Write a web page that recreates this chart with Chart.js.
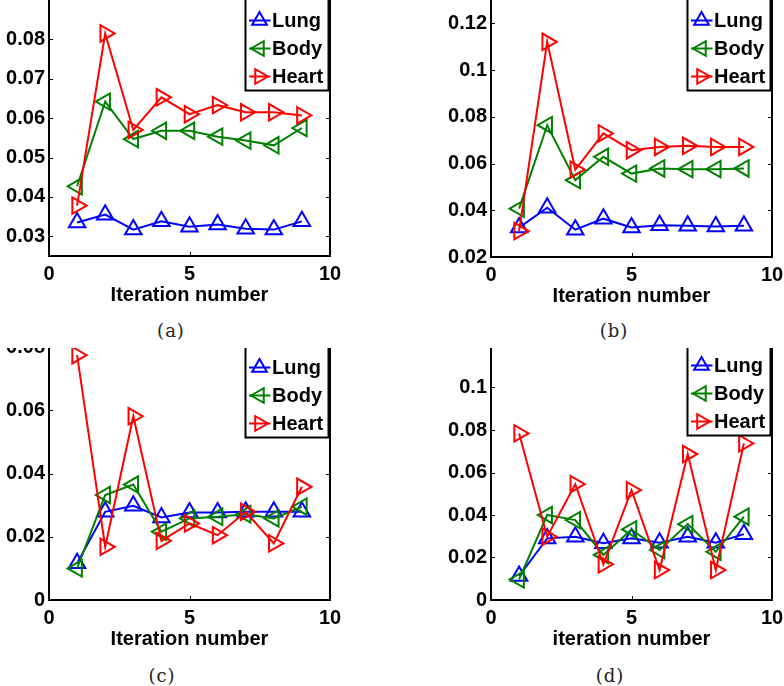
<!DOCTYPE html>
<html><head><meta charset="utf-8">
<script src="https://cdn.jsdelivr.net/npm/chart.js@4.4.0/dist/chart.umd.min.js"></script>
<style>
html,body{margin:0;padding:0;background:#fff;width:784px;height:686px;overflow:hidden;position:relative}
.clip{position:absolute;overflow:hidden}
.clip canvas{position:absolute}
.cap{position:absolute;font-family:"DejaVu Serif","Liberation Serif",serif;font-size:18px;color:#222;transform:translate(-50%,-50%);white-space:nowrap;letter-spacing:1px}
</style></head><body>
<div class="clip" id="wa"><canvas id="ca"></canvas></div>
<div class="clip" id="wb"><canvas id="cb"></canvas></div>
<div class="clip" id="wc"><canvas id="cc"></canvas></div>
<div class="clip" id="wd"><canvas id="cd"></canvas></div>
<div class="cap" style="left:171px;top:330px">(a)</div>
<div class="cap" style="left:614px;top:330px">(b)</div>
<div class="cap" style="left:162px;top:675px">(c)</div>
<div class="cap" style="left:610px;top:675px">(d)</div>
<script>
// ---- data ----
const iterations = [1, 2, 3, 4, 5, 6, 7, 8, 9];
const seriesLabels = ['Lung', 'Body', 'Heart'];
const xTicks = [0, 5, 10];

const lungA  = [0.0335, 0.0355, 0.0317, 0.0338, 0.0324, 0.0330, 0.0319, 0.0317, 0.0338];
const bodyA  = [0.0427, 0.0642, 0.0547, 0.0568, 0.0568, 0.0553, 0.0543, 0.0531, 0.0575];
const heartA = [0.0378, 0.0815, 0.0570, 0.0653, 0.0610, 0.0633, 0.0615, 0.0615, 0.0607];
const yTicksA = [0.03, 0.04, 0.05, 0.06, 0.07, 0.08];

const lungB  = [0.0326, 0.0411, 0.0317, 0.0364, 0.0326, 0.0336, 0.0334, 0.0331, 0.0334];
const bodyB  = [0.0407, 0.0764, 0.0529, 0.0629, 0.0557, 0.0579, 0.0576, 0.0576, 0.0579];
const heartB = [0.0311, 0.1121, 0.0574, 0.0729, 0.0657, 0.0671, 0.0676, 0.0671, 0.0671];
const yTicksB = [0.02, 0.04, 0.06, 0.08, 0.1, 0.12];

const lungC  = [0.0116, 0.0279, 0.0298, 0.0261, 0.0277, 0.0277, 0.0279, 0.0279, 0.0279];
const bodyC  = [0.0100, 0.0332, 0.0365, 0.0216, 0.0258, 0.0263, 0.0271, 0.0258, 0.0295];
const heartC = [0.0774, 0.0168, 0.0581, 0.0187, 0.0242, 0.0205, 0.0279, 0.0179, 0.0358];
const yTicksC = [0, 0.02, 0.04, 0.06, 0.08];

const lungD  = [0.0113, 0.0290, 0.0298, 0.0267, 0.0290, 0.0270, 0.0298, 0.0270, 0.0310];
const bodyD  = [0.0097, 0.0400, 0.0376, 0.0212, 0.0332, 0.0235, 0.0357, 0.0227, 0.0392];
const heartD = [0.0784, 0.0298, 0.0545, 0.0168, 0.0517, 0.0141, 0.0687, 0.0141, 0.0737];
const yTicksD = [0, 0.02, 0.04, 0.06, 0.08, 0.1];

const colors = ['#0000ff', '#008000', '#ff0000'];
const rotations = [0, -90, 90];

// ---- layout (page px) ----
const YW = 60, PADT = 20, PADR = 20, XH = 51;
const FONT = '"Liberation Sans", Arial, Helvetica, sans-serif';

const framePlugin = {
  id: 'frameLegend',
  afterDatasetsDraw(chart) {
    const {ctx, chartArea: a, scales} = chart;
    ctx.save();
    ctx.strokeStyle = '#000';
    // inward ticks
    ctx.lineWidth = 1;
    ctx.beginPath();
    scales.y.ticks.forEach(t => {
      const y = Math.round(scales.y.getPixelForValue(t.value)) + 0.5;
      ctx.moveTo(a.left, y); ctx.lineTo(a.left + 4, y);
      ctx.moveTo(a.right, y); ctx.lineTo(a.right - 4, y);
    });
    scales.x.ticks.forEach(t => {
      const x = Math.round(scales.x.getPixelForValue(t.value)) + 0.5;
      ctx.moveTo(x, a.bottom); ctx.lineTo(x, a.bottom - 4);
    });
    ctx.stroke();
    // frame (top is cropped)
    ctx.lineWidth = 2;
    ctx.beginPath();
    ctx.moveTo(a.left, a.top - 30);
    ctx.lineTo(a.left, a.bottom);
    ctx.lineTo(a.right, a.bottom);
    ctx.lineTo(a.right, a.top - 30);
    ctx.stroke();
    // legend
    const lw = 83, right = a.right - 1.5, left = right - lw;
    const top = a.top - 10, bottom = a.top + 90.5;
    ctx.fillStyle = '#fff';
    ctx.fillRect(left, top, lw, bottom - top);
    ctx.lineWidth = 2;
    ctx.strokeStyle = '#000';
    ctx.strokeRect(left, top, lw, bottom - top);
    chart.data.datasets.forEach((ds, i) => {
      const cy = a.top + 20.5 + i * 28;
      ctx.strokeStyle = ds.borderColor;
      ctx.lineWidth = 2;
      ctx.beginPath();
      ctx.moveTo(left + 3.5, cy); ctx.lineTo(left + 25, cy);
      ctx.stroke();
      ctx.fillStyle = 'rgba(0,0,0,0)';
      ctx.strokeStyle = ds.borderColor;
      Chart.helpers.drawPoint(ctx, {pointStyle: 'triangle', rotation: ds.pointRotation, radius: 8.5, borderWidth: 2}, left + 14, cy);
      ctx.fillStyle = '#000';
      ctx.font = 'bold 20px ' + FONT;
      ctx.textBaseline = 'middle';
      ctx.textAlign = 'left';
      ctx.fillText(ds.label, left + 26.5, cy + 1);
    });
    ctx.restore();
  }
};

function makePanel(canvasId, wrapId, geo, series, yTicks, xTitle) {
  const {L, R, T, B, ymin, ymax, clipTop, clipLeft, clipW, clipH} = geo;
  const wrap = document.getElementById(wrapId);
  wrap.style.left = clipLeft + 'px'; wrap.style.top = clipTop + 'px';
  wrap.style.width = clipW + 'px'; wrap.style.height = clipH + 'px';
  const cv = document.getElementById(canvasId);
  const cw = (R - L) + YW + PADR, ch = (B - T) + PADT + XH;
  cv.width = cw; cv.height = ch;
  cv.style.width = cw + 'px'; cv.style.height = ch + 'px';
  cv.style.left = (L - YW - clipLeft) + 'px';
  cv.style.top = (T - PADT - clipTop) + 'px';

  const datasets = series.map((vals, i) => ({
    label: seriesLabels[i],
    data: iterations.map((x, j) => ({x: x, y: vals[j]})),
    borderColor: colors[i],
    backgroundColor: 'rgba(0,0,0,0)',
    borderWidth: 2,
    pointStyle: 'triangle',
    pointRotation: rotations[i],
    pointRadius: 9.5,
    pointBorderWidth: 2,
    pointBackgroundColor: 'rgba(0,0,0,0)',
    pointBorderColor: colors[i],
    tension: 0,
    clip: false,
    order: 3 - i
  }));

  new Chart(cv, {
    type: 'line',
    data: {datasets},
    options: {
      responsive: false,
      animation: false,
      devicePixelRatio: 1,
      layout: {padding: {top: PADT, right: PADR, left: 0, bottom: 0}},
      plugins: {legend: {display: false}, tooltip: {enabled: false}},
      scales: {
        x: {
          type: 'linear', min: 0, max: 10,
          grid: {display: false, drawTicks: false, tickLength: 0},
          border: {display: false},
          afterBuildTicks: s => { s.ticks = xTicks.map(v => ({value: v})); },
          afterFit: s => { s.height = XH; },
          ticks: {color: '#000', padding: 6, maxRotation: 0, autoSkip: false,
                  font: {family: FONT, size: 20, weight: 'bold'},
                  callback: v => String(v)},
          title: {display: true, text: xTitle, color: '#000', padding: {top: 0, bottom: 0},
                  font: {family: FONT, size: 20, weight: 'bold'}}
        },
        y: {
          type: 'linear', min: ymin, max: ymax,
          grid: {display: false, drawTicks: false, tickLength: 0},
          border: {display: false},
          afterBuildTicks: s => { s.ticks = yTicks.map(v => ({value: v})); },
          afterFit: s => { s.width = YW; },
          ticks: {color: '#000', padding: 4, autoSkip: false,
                  font: {family: FONT, size: 20, weight: 'bold'},
                  callback: v => String(+v.toFixed(3))}
        }
      }
    },
    plugins: [framePlugin]
  });
}

makePanel('ca', 'wa', {L: 49, R: 330, T: 0, B: 256, ymin: 0.025, ymax: 0.09,
  clipLeft: 0, clipTop: 0, clipW: 392, clipH: 312}, [lungA, bodyA, heartA], yTicksA, 'Iteration number');
makePanel('cb', 'wb', {L: 491, R: 772, T: 0, B: 257, ymin: 0.02, ymax: 0.13,
  clipLeft: 392, clipTop: 0, clipW: 392, clipH: 312}, [lungB, bodyB, heartB], yTicksB, 'Iteration number');
makePanel('cc', 'wc', {L: 49, R: 330, T: 347, B: 600, ymin: 0, ymax: 0.08,
  clipLeft: 0, clipTop: 348, clipW: 392, clipH: 310}, [lungC, bodyC, heartC], yTicksC, 'Iteration number');
makePanel('cd', 'wd', {L: 491, R: 772, T: 345, B: 600, ymin: 0, ymax: 0.12,
  clipLeft: 392, clipTop: 348, clipW: 392, clipH: 310}, [lungD, bodyD, heartD], yTicksD, 'iteration number');
</script>
</body></html>
